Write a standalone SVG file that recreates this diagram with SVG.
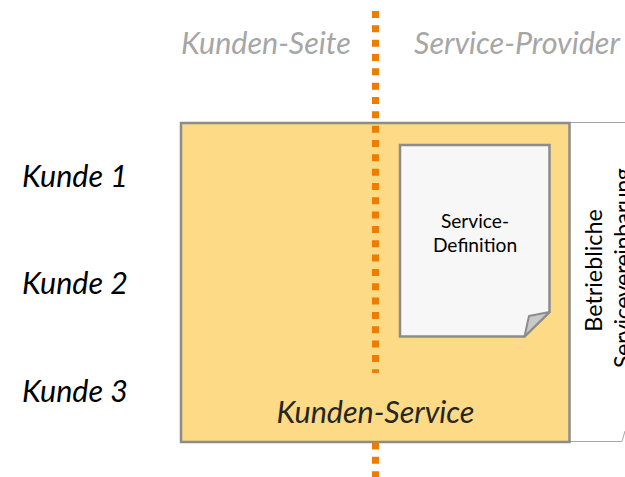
<svg xmlns="http://www.w3.org/2000/svg" width="625" height="477" viewBox="0 0 625 477">
<style>
text{font-family:Lato,"Liberation Sans",sans-serif}
.k{font-size:30.500px;font-style:italic;fill:#000}
.h{font-size:30.500px;font-style:italic;fill:#a6a6a6}
.d{font-size:19.200px;fill:#000;text-anchor:middle}
.r{font-size:23.300px;fill:#000;text-anchor:middle}
.dot{fill:none;stroke:#ed7d00;stroke-width:7;stroke-dasharray:7 7.33}
</style>
<rect width="625" height="477" fill="#fff"/>
<g id="bracket"><path d="M570 122.500H625M570 441.500H622L625 431" fill="none" stroke="#a6a6a6" stroke-width="1"/></g>
<g id="kunden-service"><rect x="181" y="123" width="388.500" height="319" fill="#fdda85" stroke="#8c8c8c" stroke-width="2.500"/>
<text class="k" x="375.500" y="423" text-anchor="middle" style="fill:#262626">Kunden-Service</text></g>
<g id="connectors">
<path class="dot" d="M375.500 11V373"/>
<path class="dot" d="M375.500 442.500V477"/>
</g>
<g id="service-definition">
<path d="M400 145H549.500V312L524.500 336.500H400Z" fill="#f7f7f7" stroke="#8c8c8c" stroke-width="2.500"/>
<path d="M524.500 336.500L529 316L549.500 312Z" fill="#c9c9c9" stroke="#8c8c8c" stroke-width="2" stroke-linejoin="round"/>
<text class="d" x="475" y="228">Service-</text>
<text class="d" x="475" y="252">Definition</text>
</g>
<g id="labels">
<text class="h" x="181" y="54">Kunden-Seite</text>
<text class="h" x="414" y="54">Service-Provider</text>
<text class="k" x="22" y="187">Kunde 1</text>
<text class="k" x="22" y="294">Kunde 2</text>
<text class="k" x="22" y="402">Kunde 3</text>
<text class="r" transform="translate(602 270.500) rotate(-90)">Betriebliche</text>
<text class="r" transform="translate(631 268) rotate(-90)" textLength="200">Servicevereinbarung</text>
</g>
</svg>
